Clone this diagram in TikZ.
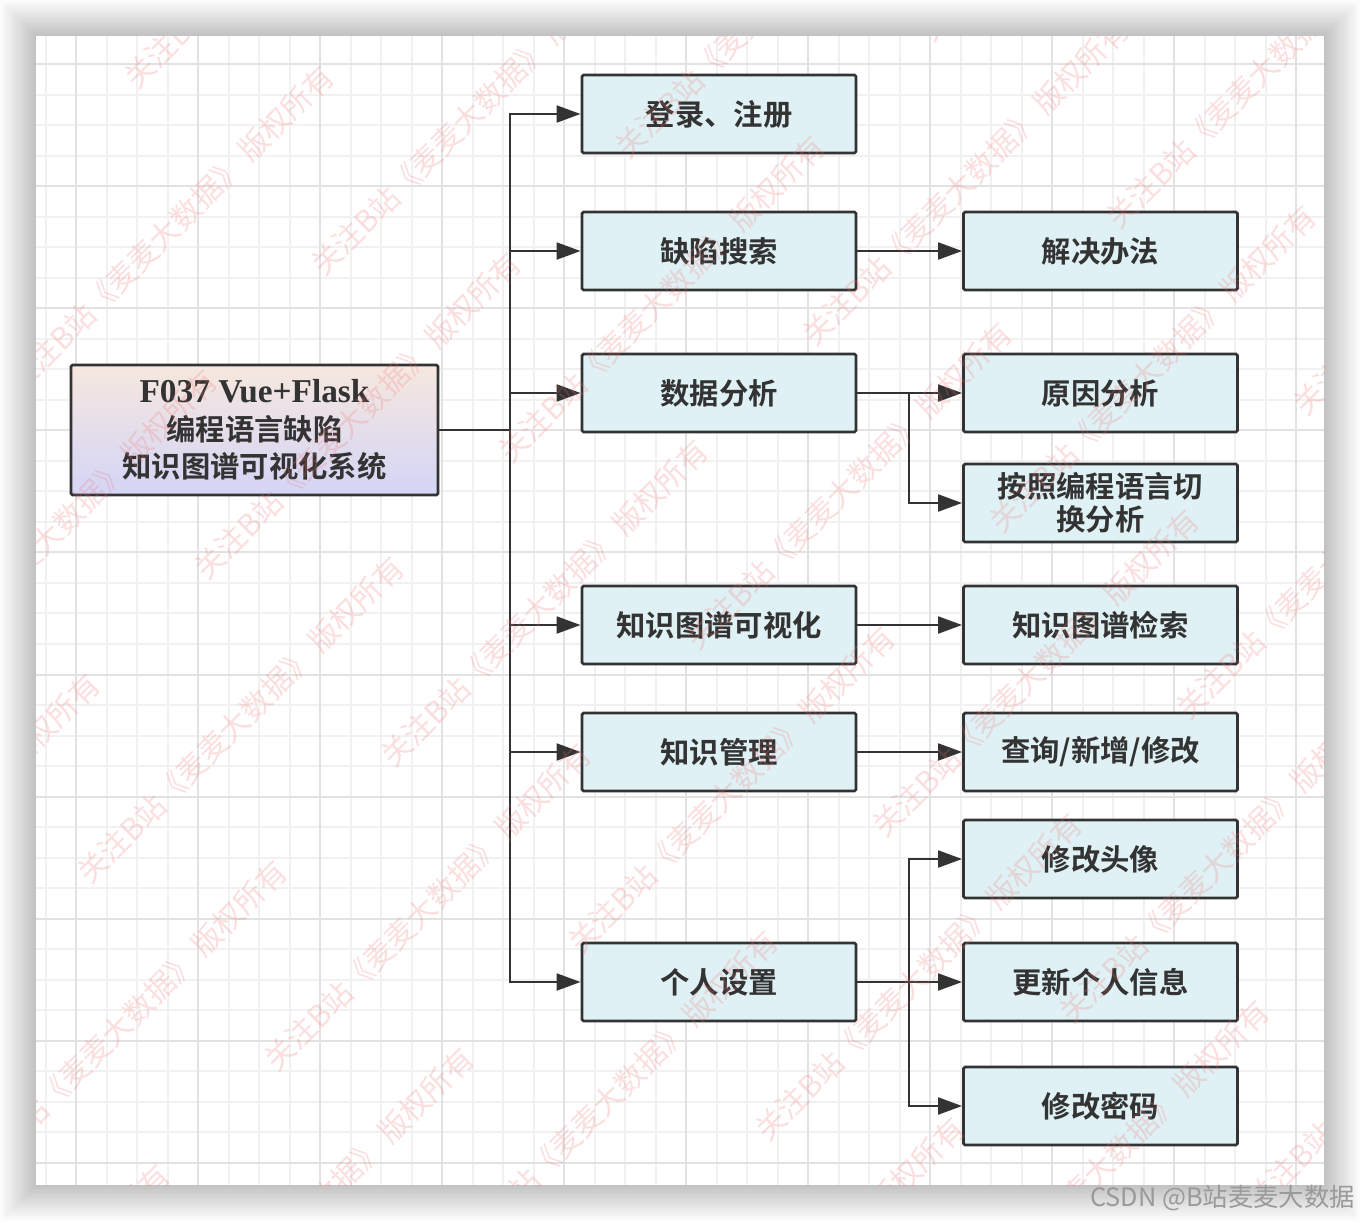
\documentclass[tikz,border=0pt]{standalone}
\usepackage{fontspec}
\setmainfont{Liberation Serif}
\newfontfamily\cjk{Noto Sans CJK SC}[BoldFont={Noto Sans CJK SC Bold}]
\usetikzlibrary{arrows.meta}
\definecolor{ink}{HTML}{333333}
\definecolor{boxfill}{HTML}{DFF1F4}
\definecolor{rtop}{HTML}{F6E8DE}
\definecolor{rbot}{HTML}{D4D5F6}
\definecolor{gminor}{HTML}{F1F1F1}
\definecolor{gmajor}{HTML}{E2E2E2}
\definecolor{wmred}{HTML}{F07070}
\definecolor{csdngray}{HTML}{9A9A9A}
\begin{document}
\begin{tikzpicture}[x=0.75pt,y=-0.75pt,
  ebox/.style={draw=ink, line width=2pt, fill=boxfill, rounded corners=1.2pt,
    minimum width=205.5pt, minimum height=58.5pt, inner sep=0pt, align=center,
    text=ink, font=\cjk\bfseries\fontsize{22}{28}\selectfont},
  rootbox/.style={top color=rtop, bottom color=rbot, minimum width=275.25pt, minimum height=97.5pt},
  twoline/.style={font=\cjk\bfseries\fontsize{22}{25}\selectfont},
  conn/.style={draw=ink, line width=2.2pt},
  arr/.style={conn, -{Triangle[length=18pt,width=12.5pt]}},
  wm/.style={rotate=45, anchor=west, text=wmred, opacity=0.22, inner sep=0pt,
    font=\cjk\fontsize{22.5}{22.5}\selectfont},
  gminorline/.style={draw=gminor, line width=1.5pt},
  gmajorline/.style={draw=gmajor, line width=1.5pt}
]
\useasboundingbox (0,0) rectangle (1360,1222);
\fill[white] (0,0) rectangle (1360,1222);
% shadow
\foreach \i in {1,...,20}{
  \pgfmathsetmacro\d{\i*1.8}
  \fill[black,opacity=0.010] (36-\d,36-\d) rectangle (1324+\d,1185+\d);
}
% canvas and grid
\begin{scope}
  \clip (36,36) rectangle (1324,1185);
  \fill[white] (36,36) rectangle (1324,1185);
  \foreach \k in {-1,...,42}{
    \pgfmathsetmacro\gx{76+30.5*\k}
    \draw[gminorline] (\gx,36) -- (\gx,1185);
  }
  \foreach \k in {-1,...,38}{
    \pgfmathsetmacro\gy{64+30.525*\k}
    \draw[gminorline] (36,\gy) -- (1324,\gy);
  }
  \foreach \k in {0,...,10}{
    \pgfmathsetmacro\gx{76+122*\k}
    \draw[gmajorline] (\gx,36) -- (\gx,1185);
  }
  \foreach \k in {0,...,9}{
    \pgfmathsetmacro\gy{64+122.1*\k}
    \draw[gmajorline] (36,\gy) -- (1324,\gy);
  }
\end{scope}
% nodes
\node[ebox, rootbox] (root) at (254.5,430) {{\rmfamily\bfseries\fontsize{25}{28}\selectfont F037 Vue+Flask}\\编程语言缺陷\\知识图谱可视化系统};
\node[ebox] (login) at (719,114) {登录、注册};
\node[ebox] (search) at (719,251) {缺陷搜索};
\node[ebox] (analysis) at (719,393) {数据分析};
\node[ebox] (kgvis) at (719,625) {知识图谱可视化};
\node[ebox] (km) at (719,752) {知识管理};
\node[ebox] (ps) at (719,982) {个人设置};
\node[ebox] (sol) at (1100.5,251) {解决办法};
\node[ebox] (cause) at (1100.5,393) {原因分析};
\node[ebox, twoline] (lang) at (1100.5,503) {按照编程语言切\\换分析};
\node[ebox] (kgs) at (1100.5,625) {知识图谱检索};
\node[ebox] (crud) at (1100.5,752) {查询/新增/修改};
\node[ebox] (avatar) at (1100.5,859) {修改头像};
\node[ebox] (upd) at (1100.5,982) {更新个人信息};
\node[ebox] (pwd) at (1100.5,1106) {修改密码};
% connectors
\coordinate (j1) at (510,430);
\coordinate (j2) at (909,393);
\coordinate (j3) at (909,982);
\draw[conn] (root.east) -- (j1);
\draw[arr] (j1) |- (login.west);
\draw[arr] (j1) |- (search.west);
\draw[arr] (j1) |- (analysis.west);
\draw[arr] (j1) |- (kgvis.west);
\draw[arr] (j1) |- (km.west);
\draw[arr] (j1) |- (ps.west);
\draw[arr] (search.east) -- (sol.west);
\draw[arr] (analysis.east) -- (cause.west);
\draw[arr] (j2) |- (lang.west);
\draw[arr] (kgvis.east) -- (kgs.west);
\draw[arr] (km.east) -- (crud.west);
\draw[arr] (ps.east) -- (upd.west);
\draw[arr] (j3) |- (avatar.west);
\draw[arr] (j3) |- (pwd.west);
% watermark (only the copies that reach the canvas)
\begin{scope}
  \clip (36,36) rectangle (1324,1185);
  \foreach \a in {-4,...,7}{
    \foreach \b in {-4,...,7}{
      \pgfmathsetmacro\wx{82.4+304*\a+117*\b}
      \pgfmathsetmacro\wy{877.6-117*\a-304*\b}
      \pgfmathtruncatemacro\ok{(\wx<1324)*(\wx>-314)*(\wy>21)*(\wy<1535)}
      \ifnum\ok=1
        \node[wm] (w\a\b) at (\wx,\wy) {关注B站《麦麦大数据》 版权所有};
      \fi
    }
  }
\end{scope}
\node[anchor=base east, text=csdngray, inner sep=0pt, font=\cjk\fontsize{19}{19}\selectfont] (csdn) at (1355,1206) {CSDN @B站麦麦大数据};
\end{tikzpicture}
\end{document}
